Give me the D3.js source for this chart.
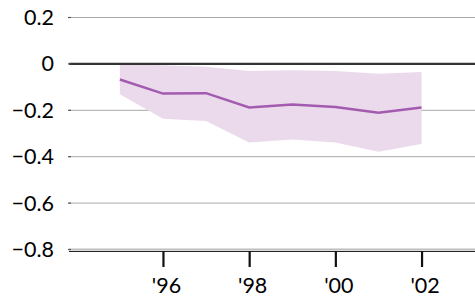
<!DOCTYPE html>
<html>
<head>
<meta charset="utf-8">
<script src="https://cdn.jsdelivr.net/npm/d3@7"></script>
<style>
  body { margin: 0; background: #fff; }
  svg { display: block; }
  text { font-family: Lato, "Open Sans", sans-serif; fill: #000; }
</style>
</head>
<body>
<svg id="chart" width="475" height="299"></svg>
<script>
const years = [1995, 1996, 1997, 1998, 1999, 2000, 2001, 2002];
const estimate = [-0.067, -0.128, -0.126, -0.188, -0.175, -0.186, -0.21, -0.188];
const upper = [-0.003, -0.006, -0.012, -0.031, -0.027, -0.031, -0.042, -0.035];
const lower = [-0.131, -0.236, -0.246, -0.339, -0.326, -0.339, -0.379, -0.345];
const yTicks = [0.2, 0, -0.2, -0.4, -0.6, -0.8];
const xTicks = [1996, 1998, 2000, 2002];

const width = 475, height = 299;
const svg = d3.select("#chart");

const x = d3.scaleLinear().domain([1993.82, 2003.24]).range([69, 475]);
const y = d3.scaleLinear().domain([0.2, -0.8]).range([17.5, 249.5]);

const data = years.map((yr, i) => ({ yr, v: estimate[i], lo: lower[i], hi: upper[i] }));

// gridlines
svg.append("g")
  .selectAll("line")
  .data(yTicks.filter((d) => d !== 0 && d !== -0.8))
  .join("line")
  .attr("x1", 69)
  .attr("x2", width)
  .attr("y1", (d) => y(d))
  .attr("y2", (d) => y(d))
  .attr("stroke", "#a8a8a8")
  .attr("stroke-width", 1);

// bottom grid + axis line
svg.append("line")
  .attr("x1", 69).attr("x2", width)
  .attr("y1", y(-0.8)).attr("y2", y(-0.8))
  .attr("stroke", "#bdbdbd").attr("stroke-width", 2);

const xAxis = svg.append("g")
  .attr("transform", `translate(0,${y(-0.8) + 1.5})`)
  .call(d3.axisBottom(x).tickValues(xTicks).tickSize(16).tickPadding(11)
    .tickFormat((d) => "'" + String(d).slice(2)));
xAxis.select(".domain").attr("stroke", "#222").attr("stroke-width", 1).attr("d", `M69,0.5H${width}`);
xAxis.selectAll(".tick line").attr("stroke", "#111").attr("stroke-width", 2.2);
xAxis.selectAll(".tick text")
  .style("font-size", "21.5px")
  .attr("dx", "3")
  .attr("fill", "#000");

// band
svg.append("path")
  .datum(data)
  .attr("fill", "#ebdaeb")
  .attr("d", d3.area().x((d) => x(d.yr)).y0((d) => y(d.lo)).y1((d) => y(d.hi)));

// zero line
svg.append("line")
  .attr("x1", 69).attr("x2", width)
  .attr("y1", y(0)).attr("y2", y(0))
  .attr("stroke", "#333").attr("stroke-width", 2.2);

// estimate line
svg.append("path")
  .datum(data)
  .attr("fill", "none")
  .attr("stroke", "#a35bb0")
  .attr("stroke-width", 2.5)
  .attr("d", d3.line().x((d) => x(d.yr)).y((d) => y(d.v)));

// y labels
svg.append("g")
  .selectAll("text")
  .data(yTicks)
  .join("text")
  .attr("x", 54)
  .attr("y", (d) => y(d))
  .attr("dy", "0.35em")
  .attr("text-anchor", "end")
  .style("font-size", "21.5px")
  .text((d) => (d === 0 ? "0" : d3.format(".1f")(d).replace("-", "\u2212")));

// small marks at gridline start
svg.append("g")
  .selectAll("line")
  .data(yTicks)
  .join("line")
  .attr("x1", 68).attr("x2", 71)
  .attr("y1", (d) => y(d)).attr("y2", (d) => y(d))
  .attr("stroke", "#555").attr("stroke-width", 1.2);
</script>
</body>
</html>
